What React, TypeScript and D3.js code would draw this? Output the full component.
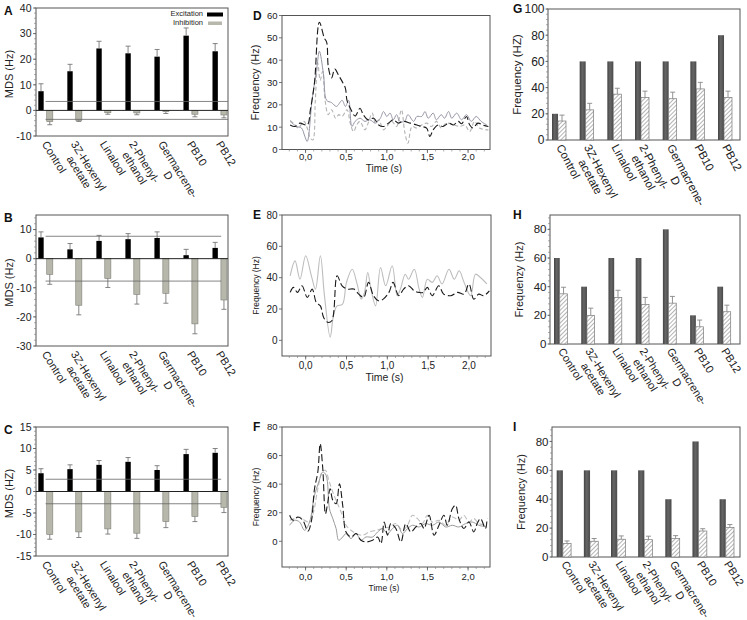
import * as d3 from "d3";

const FONT = "'Liberation Sans', Arial, sans-serif";

// categories shared by the bar panels (split into the printed lines)
const categoryLines = [
  ["Control"],
  ["3Z-Hexenyl", "acetate"],
  ["Linalool"],
  ["2-Phenyl-", "ethanol"],
  ["Germacrene-", "D"],
  ["PB10"],
  ["PB12"],
];
const categories = categoryLines.map((l) => l.join(" "));

// panel A
const excitationA = [7.5, 15.3, 24.2, 22.3, 21, 29.2, 23.1];
const excitationAErr = [2.9, 2.7, 2.8, 2.8, 2.8, 3, 3];
const inhibitionA = [-4.4, -3.9, -0.9, -1, -0.5, -1.5, -1.8];
const inhibitionAErr = [1.2, 0.4, 0.6, 0.7, 0.7, 1, 1.1];
const thresholdA = 3.5;

// panel B
const excitationB = [7.3, 3.2, 6.1, 6.7, 7.1, 1.2, 3.7];
const excitationBErr = [1.9, 2, 1.9, 1.9, 2.1, 2, 1.9];
const inhibitionB = [-5.4, -16, -6.8, -12.3, -11.9, -22.4, -14.2];
const inhibitionBErr = [3.4, 3.3, 3.1, 3.3, 3.4, 3.4, 3.2];
const thresholdB = 7.7;

// panel C
const excitationC = [4.25, 5.2, 6.2, 6.9, 5, 8.7, 9];
const excitationCErr = [1.05, 1, 1, 1, 1, 1.1, 1];
const inhibitionC = [-10, -9.4, -8.7, -9.7, -7, -5.8, -3.7];
const inhibitionCErr = [1.1, 1.3, 1.2, 1.2, 1.4, 1.2, 1.2];
const thresholdC = 2.85;

// panels G-I: solid = baseline, hatched = response
const baselineG = [20, 60, 60, 60, 60, 60, 80];
const responseG = [14.5, 23, 35, 32.5, 31.5, 39, 32.5];
const responseGErr = [4.5, 5, 4.5, 4.8, 5, 5, 4.8];
const baselineH = [60, 40, 60, 60, 80, 20, 40];
const responseH = [35, 20, 32.5, 27.5, 28.5, 12, 22.5];
const responseHErr = [4.6, 5, 5, 5, 4.7, 4.7, 4.6];
const baselineI = [60, 60, 60, 60, 40, 80, 40];
const responseI = [9.3, 10.9, 12.3, 12, 12.8, 18, 20.5];
const responseIErr = [1.8, 1.9, 2.3, 2.4, 2, 1.6, 2];

// panels D-F: [time (s), frequency (Hz)]
const traceDBlack = [[-0.19, 11], [-0.13, 10.3], [-0.07, 11.8], [0.02, 11], [0.06, 18], [0.11, 30], [0.17, 57], [0.23, 50], [0.26, 48], [0.28, 37], [0.32, 32], [0.36, 36], [0.41, 33], [0.45, 30.5], [0.49, 27.5], [0.51, 22], [0.55, 18.5], [0.61, 15], [0.67, 18.5], [0.71, 15.6], [0.77, 13.3], [0.84, 14], [0.9, 11], [0.96, 10.3], [1.02, 11.8], [1.08, 13.3], [1.14, 11.8], [1.2, 12.6], [1.29, 11.8], [1.37, 11], [1.43, 10.3], [1.49, 9.6], [1.53, 5.8], [1.57, 8.8], [1.63, 11], [1.69, 10.3], [1.76, 11.8], [1.82, 11], [1.88, 12.6], [1.92, 11.5], [1.98, 14.8], [2.02, 11], [2.06, 9.6], [2.12, 11.8], [2.18, 11], [2.25, 10.3]];
const traceDGrey = [[-0.19, 12.6], [-0.11, 10.3], [-0.05, 9.6], [-0.01, 6], [0.02, 3.6], [0.08, 22], [0.14, 37], [0.17, 44], [0.22, 34], [0.26, 22], [0.32, 21], [0.38, 19.3], [0.45, 22], [0.49, 19.3], [0.53, 22], [0.57, 10.3], [0.61, 12.6], [0.67, 14], [0.73, 12.6], [0.79, 13.3], [0.86, 11.8], [0.92, 14], [0.96, 17], [1.0, 14.8], [1.04, 16.3], [1.08, 13.3], [1.12, 15.6], [1.16, 12.6], [1.22, 12.6], [1.26, 15.6], [1.33, 12.6], [1.37, 14.8], [1.43, 14.8], [1.47, 17], [1.51, 14], [1.57, 16.3], [1.61, 13.3], [1.67, 15.6], [1.71, 14], [1.76, 17], [1.8, 14], [1.86, 16.3], [1.92, 13.3], [1.98, 15.6], [2.04, 12.6], [2.1, 14.8], [2.16, 12.6], [2.23, 11]];
const traceDLight = [[-0.19, 13], [-0.13, 11], [-0.09, 9.6], [-0.02, 12.6], [0.02, 9.6], [0.06, 5], [0.09, 4.3], [0.12, 22], [0.15, 38.8], [0.18, 31], [0.21, 35], [0.24, 22], [0.28, 15.6], [0.32, 17.8], [0.37, 14], [0.41, 15.6], [0.45, 14.8], [0.51, 17.8], [0.55, 11.8], [0.59, 8], [0.63, 11], [0.67, 12.6], [0.73, 8.8], [0.77, 11.8], [0.82, 16.3], [0.86, 11.8], [0.9, 13.3], [0.96, 8.8], [1.0, 10.3], [1.06, 12.6], [1.12, 10.3], [1.18, 17.8], [1.22, 8], [1.26, 2.8], [1.31, 10.3], [1.37, 9.6], [1.43, 11], [1.49, 11.8], [1.55, 10.3], [1.61, 12.6], [1.67, 9.6], [1.73, 11.8], [1.82, 11], [1.9, 10.3], [1.96, 11], [2.02, 8], [2.08, 12.6], [2.14, 9.6], [2.25, 8.8]];

const traceEGrey = [[-0.19, 41.2], [-0.13, 50.7], [-0.07, 39], [0.0, 54], [0.07, 41.2], [0.12, 32.7], [0.18, 54], [0.23, 28.5], [0.3, 2], [0.34, 15.7], [0.385, 22], [0.45, 23], [0.5, 37], [0.57, 45.4], [0.63, 36], [0.68, 26.3], [0.72, 30.5], [0.76, 43.3], [0.8, 32.7], [0.856, 22], [0.917, 46.5], [0.98, 34.8], [1.06, 47.6], [1.12, 28.5], [1.16, 32.7], [1.22, 42.2], [1.26, 39], [1.33, 45.4], [1.39, 32.7], [1.43, 27.4], [1.49, 39], [1.55, 37], [1.61, 41.2], [1.67, 36], [1.755, 45.4], [1.82, 39], [1.88, 44.4], [1.94, 37], [2.02, 28.5], [2.08, 42.2], [2.14, 40.1], [2.22, 36]];
const traceEBlack = [[-0.19, 30.6], [-0.15, 33.8], [-0.1, 30.6], [-0.045, 34.8], [0.02, 27.4], [0.08, 32.7], [0.13, 24.2], [0.18, 22], [0.22, 14.6], [0.27, 11.5], [0.32, 12.5], [0.385, 41.2], [0.446, 34.8], [0.51, 32.7], [0.59, 32.7], [0.65, 29.5], [0.71, 27.4], [0.77, 37], [0.83, 28.5], [0.89, 25.3], [0.95, 26.3], [1.02, 30.6], [1.07, 37], [1.14, 28.5], [1.2, 32.7], [1.26, 34.8], [1.33, 31.6], [1.39, 30.6], [1.44, 30.6], [1.49, 33.8], [1.55, 28.5], [1.63, 34.8], [1.69, 29.5], [1.78, 28.5], [1.86, 30.6], [1.94, 29.5], [2.0, 36], [2.06, 26.3], [2.12, 29.5], [2.18, 28.5], [2.25, 31.6]];

const traceFBlack = [[-0.196, 18.2], [-0.155, 14.7], [-0.094, 17], [-0.033, 14.7], [0.029, 7], [0.07, 13.5], [0.11, 36.8], [0.151, 48.5], [0.18, 68.3], [0.212, 50.8], [0.245, 19.3], [0.274, 27.5], [0.302, 36.8], [0.335, 28.7], [0.376, 26.3], [0.417, 40.3], [0.457, 25.2], [0.498, 6.5], [0.559, 3], [0.621, 5.4], [0.682, 0.7], [0.743, -0.5], [0.825, 0.7], [0.887, 3], [0.928, -1.6], [0.968, 13.5], [1.009, 4.2], [1.05, 12.4], [1.111, 8.9], [1.173, -0.5], [1.234, 12.4], [1.295, 6.5], [1.357, 10], [1.418, 12.4], [1.458, 8.9], [1.52, 18.2], [1.581, 4.2], [1.642, 11.2], [1.703, 18.2], [1.744, 11.2], [1.806, 22.8], [1.846, 25.2], [1.887, 15.9], [1.948, 8.9], [2.01, 13.5], [2.071, 6.5], [2.112, 12.4], [2.153, 15.9], [2.214, 8.9], [2.234, 15.9]];
const traceFGrey = [[-0.196, 11.2], [-0.135, 14.7], [-0.074, 13.5], [-0.012, 7.7], [0.049, 13.5], [0.11, 32.2], [0.163, 41.5], [0.212, 48.5], [0.253, 46.2], [0.294, 22.8], [0.335, 15.9], [0.376, 8.9], [0.408, 0.7], [0.457, 3], [0.498, 5.4], [0.559, 1.9], [0.621, 5.4], [0.682, 0.7], [0.743, 3], [0.825, 3], [0.887, 6.5], [0.948, 8.9], [1.009, 5.4], [1.07, 8.9], [1.132, 11.2], [1.193, 5.4], [1.255, 8.9], [1.316, 11.2], [1.397, 10], [1.479, 12.4], [1.561, 11.2], [1.642, 13.5], [1.724, 10], [1.806, 11.2], [1.887, 10], [1.969, 12.4], [2.051, 13.5], [2.132, 11.2], [2.234, 10]];
const traceFLight = [[-0.196, 14.7], [-0.135, 15.9], [-0.074, 17], [-0.012, 14.7], [0.049, 13.5], [0.098, 20.5], [0.151, 36.8], [0.204, 48.5], [0.245, 49.7], [0.286, 42.7], [0.335, 34.5], [0.376, 28.7], [0.437, 20.5], [0.498, 11.2], [0.559, 7.7], [0.621, 5.4], [0.703, 4.2], [0.784, 6.5], [0.866, 7.7], [0.948, 8.9], [1.029, 10], [1.111, 12.4], [1.193, 7.7], [1.255, 11.2], [1.316, 18.2], [1.377, 15.9], [1.438, 12.4], [1.499, 18.2], [1.561, 13.5], [1.642, 14.7], [1.724, 11.2], [1.806, 17], [1.887, 14.7], [1.948, 18.2], [2.01, 13.5], [2.071, 15.9], [2.132, 12.4], [2.234, 11.2]];

const timeTicks = [0, 0.5, 1, 1.5, 2];

let measureCtx: CanvasRenderingContext2D | null = null;
function textWidth(s: string, size: number) {
  if (!measureCtx) measureCtx = document.createElement("canvas").getContext("2d");
  if (!measureCtx) return s.length * size * 0.55;
  measureCtx.font = `${size}px "Liberation Sans", Arial`;
  return measureCtx.measureText(s).width;
}

const fmtComma = (v: number) => d3.format(".1f")(v).replace(".", ",");

function Frame({ f }) {
  return <rect x={f.l} y={f.t} width={f.r - f.l} height={f.b - f.t} fill="none" stroke="#555" strokeWidth={1} />;
}

function YAxis({ f, y, ticks, minor, fontSize, tickLen = 3, gap = 1.5 }) {
  return (
    <g>
      {minor.map((v) => (
        <line key={"m" + v} x1={f.l - 2} x2={f.l} y1={y(v)} y2={y(v)} stroke="#777" strokeWidth={0.6} />
      ))}
      {ticks.map((v) => (
        <g key={v}>
          <line x1={f.l - tickLen} x2={f.l} y1={y(v)} y2={y(v)} stroke="#555" strokeWidth={0.8} />
          <text x={f.l - tickLen - gap} y={y(v)} dy="0.36em" textAnchor="end" fontSize={fontSize} fill="#222">
            {v}
          </text>
        </g>
      ))}
    </g>
  );
}

function YTitle({ x, y, text, size }) {
  return (
    <text transform={`translate(${x},${y}) rotate(-90)`} textAnchor="middle" fontSize={size} fill="#222">
      {text}
    </text>
  );
}

function Letter({ x, y, text }) {
  return (
    <text x={x} y={y} fontSize={12} fontWeight="bold" fill="#111">
      {text}
    </text>
  );
}

function CategoryLabels({ x, bottom, size, angle, dx = -4, dy = 8 }) {
  return (
    <g fontSize={size} fill="#222">
      {categories.map((c, i) => {
        const lines = categoryLines[i];
        const cx = x(c) + x.bandwidth() / 2;
        const w1 = textWidth(lines[0], size);
        return (
          <g key={c} transform={`translate(${cx + dx},${bottom + dy}) rotate(${angle})`}>
            <text x={0} y={0} textAnchor="start">
              {lines[0]}
            </text>
            {lines[1] && (
              <text x={w1 / 2} y={size * 1.05} textAnchor="middle">
                {lines[1]}
              </text>
            )}
          </g>
        );
      })}
    </g>
  );
}

function ErrorBar({ cx, y0, y1, w = 5, color = "#777" }) {
  return (
    <g stroke={color} strokeWidth={0.9}>
      <line x1={cx} x2={cx} y1={y0} y2={y1} />
      <line x1={cx - w / 2} x2={cx + w / 2} y1={y1} y2={y1} />
    </g>
  );
}

function MdsPanel({ letter, f, domain, ticks, minor, exc, excErr, inh, inhErr, threshold, yLabel, legend = false, lineEnd }) {
  const y = d3.scaleLinear().domain(domain).range([f.b, f.t]);
  const x = d3.scaleBand().domain(categories).range([38.3, 227]).paddingInner(0.5).paddingOuter(0);
  const bw = x.bandwidth();
  const wExc = bw * 0.37;
  const wInh = bw * 0.42;
  const lineStart = x(categories[0]) + bw * 0.5;
  const lineStop = lineEnd === "frame" ? f.r : x(categories[6]) + bw * 0.6;
  return (
    <g>
      <Letter x={4} y={f.t + 7} text={letter} />
      <Frame f={f} />
      <YAxis f={f} y={y} ticks={ticks} minor={minor} fontSize={10.5} />
      <YTitle x={13} y={(f.t + f.b) / 2 + 2} text={yLabel} size={11} />
      {categories.map((c, i) => {
        const x0 = x(c);
        const xi = x0 + bw - wInh;
        return (
          <g key={c}>
            <rect x={x0} y={y(exc[i])} width={wExc} height={y(0) - y(exc[i])} fill="#000" />
            <ErrorBar cx={x0 + wExc / 2} y0={y(exc[i])} y1={y(exc[i] + excErr[i])} />
            <rect x={xi} y={y(0)} width={wInh} height={y(inh[i]) - y(0)} fill="#b7b8ab" stroke="#7d7d75" strokeWidth={0.6} />
            <ErrorBar cx={xi + wInh / 2} y0={y(inh[i])} y1={y(inh[i] - inhErr[i])} />
          </g>
        );
      })}
      <line x1={f.l} x2={f.r} y1={y(0)} y2={y(0)} stroke="#222" strokeWidth={1} />
      <line x1={lineStart} x2={lineStop} y1={y(threshold)} y2={y(threshold)} stroke="#666" strokeWidth={0.8} />
      <line x1={lineStart} x2={lineStop} y1={y(-threshold)} y2={y(-threshold)} stroke="#666" strokeWidth={0.8} />
      <CategoryLabels x={x} bottom={f.b} size={11} angle={58} />
      {legend && (
        <g fontSize={7.5}>
          <text x={203} y={f.t + 8} textAnchor="end" fill="#222">Excitation</text>
          <rect x={207} y={f.t + 4.5} width={16} height={4} fill="#000" />
          <text x={203} y={f.t + 17} textAnchor="end" fill="#222">Inhibition</text>
          <rect x={208} y={f.t + 13.5} width={14} height={3.5} fill="#b7b8ab" />
        </g>
      )}
    </g>
  );
}

function FreqBarPanel({ letter, f, domain, ticks, minor, base, resp, respErr, yLabel, groupRange, pad, tickSize, labelSize, catSize, angle }) {
  const y = d3.scaleLinear().domain(domain).range([f.b, f.t]);
  const x = d3.scaleBand().domain(categories).range(groupRange).paddingInner(pad).paddingOuter(0);
  const bw = x.bandwidth();
  const wBase = bw * 0.43;
  return (
    <g>
      <Letter x={513} y={f.t + 4} text={letter} />
      <Frame f={f} />
      <YAxis f={f} y={y} ticks={ticks} minor={minor} fontSize={tickSize} tickLen={2.5} gap={1} />
      <YTitle x={f.l - 27} y={(f.t + f.b) / 2} text={yLabel} size={labelSize} />
      {categories.map((c, i) => {
        const x0 = x(c);
        const xr = x0 + wBase;
        const wr = bw - wBase;
        return (
          <g key={c}>
            <rect x={x0} y={y(base[i])} width={wBase} height={y(0) - y(base[i])} fill="url(#darkBar)" />
            <rect x={xr} y={y(resp[i])} width={wr} height={y(0) - y(resp[i])} fill="url(#hatch)" stroke="#7a7a7a" strokeWidth={0.7} />
            <ErrorBar cx={xr + wr / 2} y0={y(resp[i])} y1={y(resp[i] + respErr[i])} w={5} color="#888" />
          </g>
        );
      })}
      <CategoryLabels x={x} bottom={f.b} size={catSize} angle={angle} dx={-3} dy={7} />
    </g>
  );
}

function LinePanel({ letter, f, yDomain, yTicks, series, tickSize, labelSize, timeSize, timeGap, xLabelGap }) {
  const x = d3.scaleLinear().domain([-0.29, 2.27]).range([f.l, f.r]);
  const y = d3.scaleLinear().domain(yDomain).range([f.b, f.t]);
  const line = d3
    .line<number[]>()
    .x((d) => x(d[0]))
    .y((d) => y(d[1]))
    .curve(d3.curveCatmullRom.alpha(0.5));
  const minorX = d3.range(-2, 23).map((i) => i / 10);
  return (
    <g>
      <Letter x={253} y={f.t + 4} text={letter} />
      <Frame f={f} />
      <YAxis f={f} y={y} ticks={yTicks} minor={[]} fontSize={tickSize} />
      <YTitle x={f.l - 23} y={(f.t + f.b) / 2} text="Frequency (Hz)" size={labelSize} />
      {minorX.map((v) => (
        <line key={v} x1={x(v)} x2={x(v)} y1={f.b} y2={f.b + 2} stroke="#777" strokeWidth={0.6} />
      ))}
      {timeTicks.map((v) => (
        <g key={v}>
          <line x1={x(v)} x2={x(v)} y1={f.b} y2={f.b + 3.5} stroke="#555" strokeWidth={0.8} />
          <text x={x(v)} y={f.b + timeGap} textAnchor="middle" fontSize={tickSize} fill="#222">
            {fmtComma(v)}
          </text>
        </g>
      ))}
      <text x={(f.l + f.r) / 2 - 2} y={f.b + xLabelGap} textAnchor="middle" fontSize={timeSize} fill="#222">
        Time (s)
      </text>
      {series.map((s, i) => (
        <path key={i} d={line(s.data)} fill="none" stroke={s.color} strokeWidth={s.width} strokeDasharray={s.dash} />
      ))}
    </g>
  );
}

export default function App() {
  const fA = { l: 36, r: 228, t: 8, b: 136 };
  const fB = { l: 36, r: 228, t: 215, b: 346 };
  const fC = { l: 36, r: 228, t: 427, b: 556 };
  const fD = { l: 282, r: 490, t: 15.5, b: 149.5 };
  const fE = { l: 282, r: 491, t: 215, b: 356 };
  const fF = { l: 282, r: 490, t: 427, b: 567 };
  const fG = { l: 548, r: 740, t: 9, b: 140 };
  const fH = { l: 550, r: 740, t: 215, b: 344 };
  const fI = { l: 552, r: 740, t: 427, b: 557 };

  return (
    <svg width={747} height={620} style={{ position: "absolute", left: 0, top: 0, background: "#fff" }} fontFamily={FONT}>
      <defs>
        <pattern id="hatch" patternUnits="userSpaceOnUse" width={3} height={3} patternTransform="rotate(45)">
          <rect width={3} height={3} fill="#fff" />
          <line x1={0} y1={0} x2={0} y2={3} stroke="#6a6a6a" strokeWidth={1} />
        </pattern>
        <linearGradient id="darkBar" x1="0" x2="1" y1="0" y2="0">
          <stop offset="0%" stopColor="#444" />
          <stop offset="45%" stopColor="#666" />
          <stop offset="100%" stopColor="#4a4a4a" />
        </linearGradient>
      </defs>
      <rect width={747} height={620} fill="#fff" />

      <MdsPanel letter="A" f={fA} domain={[-10, 40]} ticks={d3.range(-10, 41, 10)} minor={d3.range(-10, 41, 2)} exc={excitationA} excErr={excitationAErr} inh={inhibitionA} inhErr={inhibitionAErr} threshold={thresholdA} yLabel="MDS (Hz)" legend lineEnd="frame" />
      <MdsPanel letter="B" f={fB} domain={[-30, 15]} ticks={d3.range(-30, 11, 10)} minor={d3.range(-30, 16, 2)} exc={excitationB} excErr={excitationBErr} inh={inhibitionB} inhErr={inhibitionBErr} threshold={thresholdB} yLabel="MDS (Hz)" />
      <MdsPanel letter="C" f={fC} domain={[-15, 15]} ticks={d3.range(-15, 16, 5)} minor={d3.range(-15, 16, 1)} exc={excitationC} excErr={excitationCErr} inh={inhibitionC} inhErr={inhibitionCErr} threshold={thresholdC} yLabel="MDS (HZ)" />

      <LinePanel letter="D" f={fD} yDomain={[0, 60]} yTicks={d3.range(0, 61, 10)} tickSize={9.5} labelSize={11} timeSize={10} timeGap={10} xLabelGap={22}
        series={[
          { data: traceDLight, color: "#b3b3b3", width: 1.1, dash: "4,2.5" },
          { data: traceDGrey, color: "#9697a6", width: 1, dash: null },
          { data: traceDBlack, color: "#1a1a1a", width: 1.1, dash: "7,3" },
        ]} />
      <LinePanel letter="E" f={fE} yDomain={[-10, 80]} yTicks={d3.range(0, 81, 20)} tickSize={10} labelSize={8.5} timeSize={10.5} timeGap={13} xLabelGap={25}
        series={[
          { data: traceEGrey, color: "#bdbdbd", width: 1.1, dash: null },
          { data: traceEBlack, color: "#1a1a1a", width: 1.1, dash: "7,3" },
        ]} />
      <LinePanel letter="F" f={fF} yDomain={[-18, 80]} yTicks={d3.range(0, 81, 20)} tickSize={9.5} labelSize={8.5} timeSize={8.5} timeGap={13} xLabelGap={23.5}
        series={[
          { data: traceFLight, color: "#bdbdbd", width: 1.1, dash: "5,2.5" },
          { data: traceFGrey, color: "#9a9a9a", width: 1, dash: null },
          { data: traceFBlack, color: "#1a1a1a", width: 1.1, dash: "7,3" },
        ]} />

      <FreqBarPanel letter="G" f={fG} domain={[0, 100]} ticks={d3.range(0, 101, 20)} minor={d3.range(0, 101, 4)} base={baselineG} resp={responseG} respErr={responseGErr} yLabel="Frequency (HZ)" groupRange={[552, 732]} pad={0.494} tickSize={12} labelSize={11.5} catSize={11.5} angle={62} />
      <FreqBarPanel letter="H" f={fH} domain={[0, 90]} ticks={d3.range(0, 81, 20)} minor={d3.range(0, 91, 4)} base={baselineH} resp={responseH} respErr={responseHErr} yLabel="Frequenzy (Hz)" groupRange={[554, 730.7]} pad={0.51} tickSize={11.5} labelSize={11} catSize={11} angle={58} />
      <FreqBarPanel letter="I" f={fI} domain={[0, 90]} ticks={d3.range(0, 81, 20)} minor={d3.range(0, 91, 4)} base={baselineI} resp={responseI} respErr={responseIErr} yLabel="Frequency (Hz)" groupRange={[556.7, 734]} pad={0.47} tickSize={11.5} labelSize={11} catSize={11} angle={58} />
    </svg>
  );
}
